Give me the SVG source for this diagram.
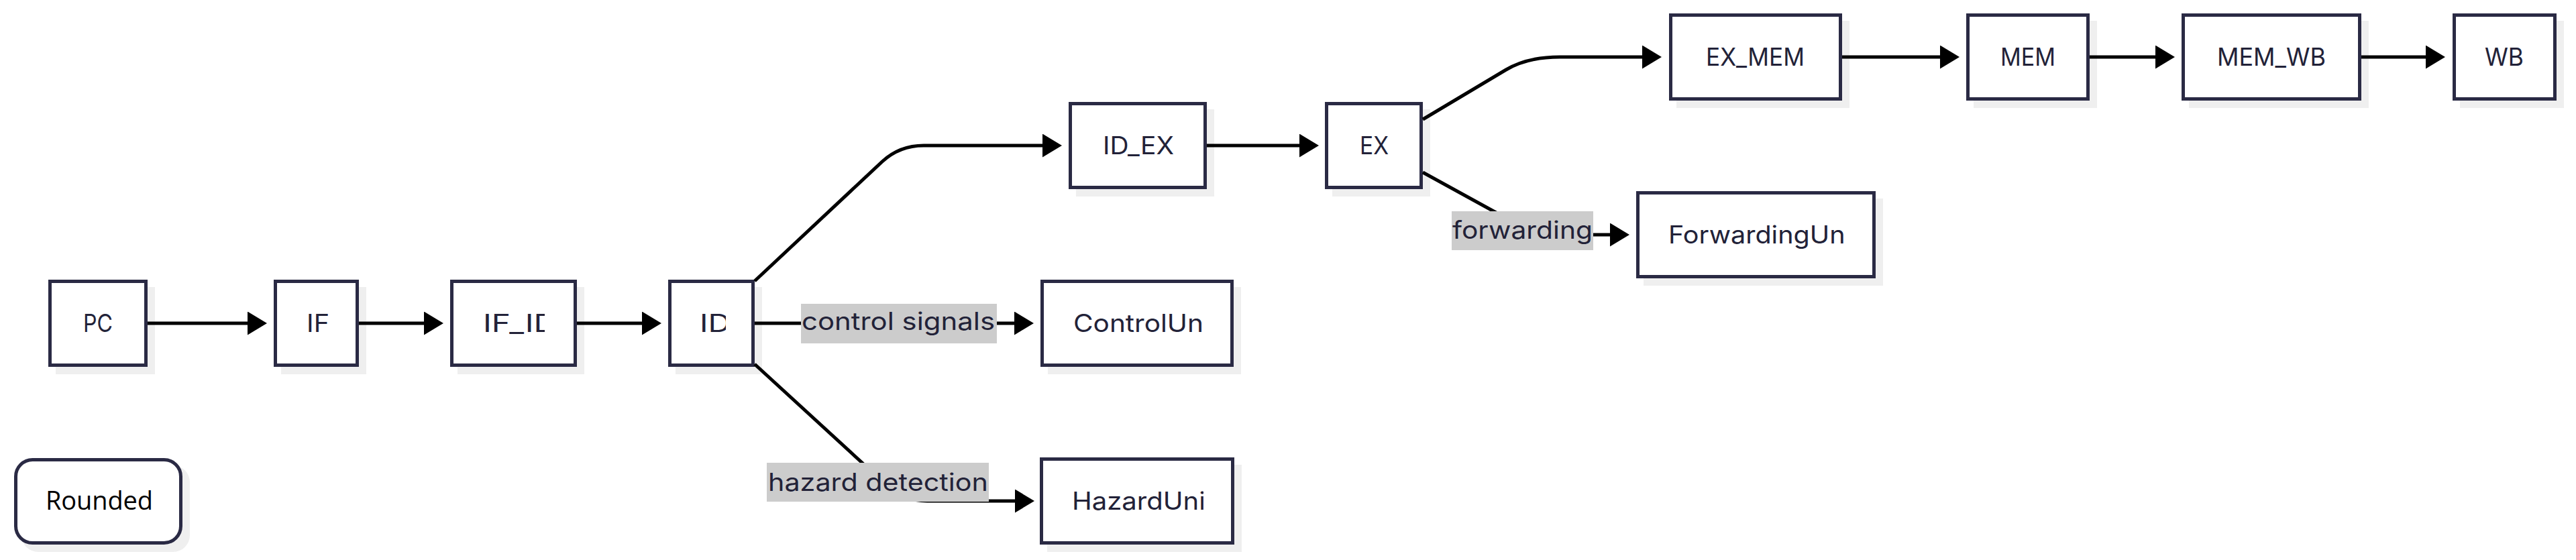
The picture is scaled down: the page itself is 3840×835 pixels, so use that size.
<svg xmlns="http://www.w3.org/2000/svg" width="3840" height="835" viewBox="0 0 3840 835">
<style>
.shadow{fill:#efefef}
.box{fill:#ffffff;stroke:#2a2a44;stroke-width:5}
.nt{font-family:Inter,Roboto,"Liberation Sans",sans-serif;font-size:37px;fill:#222238}
.edge{fill:none;stroke:#000000;stroke-width:5}
.lbg{fill:#cccccc}
.lt{font-family:Inter,Roboto,"Liberation Sans",sans-serif;font-size:37px;fill:#222238}
.rt{font-family:"Open Sans","Noto Sans","Liberation Sans",sans-serif;font-size:38px;fill:#000000}
</style>
<defs>
<marker id="arrow" viewBox="0 0 29 35" refX="9" refY="17.5" markerWidth="29" markerHeight="35" markerUnits="userSpaceOnUse" orient="auto">
<path d="M0,0 L29,17.5 L0,35 z" fill="#000000"/>
</marker>
<clipPath id="c-IF"><rect x="440" y="420" width="49" height="125"/></clipPath>
<clipPath id="c-IFID"><rect x="700" y="420" width="112" height="125"/></clipPath>
<clipPath id="c-ID"><rect x="1030" y="420" width="52" height="125"/></clipPath>
<clipPath id="c-CU"><rect x="1590" y="420" width="203" height="125"/></clipPath>
<clipPath id="c-HU"><rect x="1590" y="685" width="204" height="125"/></clipPath>
<clipPath id="c-FU"><rect x="2475" y="288" width="274" height="125"/></clipPath>
</defs>

<g id="node-PC">
<rect class="shadow" x="83" y="428" width="148" height="130"/>
<rect class="box" x="74.5" y="419.5" width="143" height="125"/>
<text class="nt" x="124" y="495" textLength="44" lengthAdjust="spacingAndGlyphs">PC</text>
</g>
<g id="node-IF">
<rect class="shadow" x="419" y="428" width="127" height="130"/>
<rect class="box" x="410.5" y="419.5" width="122" height="125"/>
<text class="nt" x="457" y="495" textLength="34" lengthAdjust="spacingAndGlyphs" clip-path="url(#c-IF)">IF</text>
</g>
<g id="node-IF_ID">
<rect class="shadow" x="682" y="428" width="189" height="130"/>
<rect class="box" x="673.5" y="419.5" width="184" height="125"/>
<text class="nt" x="720" y="495" textLength="110" lengthAdjust="spacingAndGlyphs" clip-path="url(#c-IFID)">IF_ID</text>
</g>
<g id="node-ID">
<rect class="shadow" x="1007" y="428" width="129" height="130"/>
<rect class="box" x="998.5" y="419.5" width="124" height="125"/>
<text class="nt" x="1043" y="495" textLength="46" lengthAdjust="spacingAndGlyphs" clip-path="url(#c-ID)">ID</text>
</g>
<g id="node-ControlUnit">
<rect class="shadow" x="1562" y="428" width="288" height="130"/>
<rect class="box" x="1553.5" y="419.5" width="283" height="125"/>
<text class="nt" x="1600" y="495" textLength="217" lengthAdjust="spacingAndGlyphs" clip-path="url(#c-CU)">ControlUnit</text>
</g>
<g id="node-HazardUnit">
<rect class="shadow" x="1561" y="693" width="290" height="130"/>
<rect class="box" x="1552.5" y="684.5" width="285" height="125"/>
<text class="nt" x="1598" y="760" textLength="212" lengthAdjust="spacingAndGlyphs" clip-path="url(#c-HU)">HazardUnit</text>
</g>
<g id="node-ID_EX">
<rect class="shadow" x="1604" y="163" width="206" height="130"/>
<rect class="box" x="1595.5" y="154.5" width="201" height="125"/>
<text class="nt" x="1644" y="230" textLength="106" lengthAdjust="spacingAndGlyphs">ID_EX</text>
</g>
<g id="node-EX">
<rect class="shadow" x="1986" y="163" width="146" height="130"/>
<rect class="box" x="1977.5" y="154.5" width="141" height="125"/>
<text class="nt" x="2027" y="230" textLength="43" lengthAdjust="spacingAndGlyphs">EX</text>
</g>
<g id="node-ForwardingUnit">
<rect class="shadow" x="2450" y="296" width="357" height="130"/>
<rect class="box" x="2441.5" y="287.5" width="352" height="125"/>
<text class="nt" x="2487" y="363" textLength="286" lengthAdjust="spacingAndGlyphs" clip-path="url(#c-FU)">ForwardingUnit</text>
</g>
<g id="node-EX_MEM">
<rect class="shadow" x="2499" y="31" width="258" height="130"/>
<rect class="box" x="2490.5" y="22.5" width="253" height="125"/>
<text class="nt" x="2543" y="98" textLength="147" lengthAdjust="spacingAndGlyphs">EX_MEM</text>
</g>
<g id="node-MEM">
<rect class="shadow" x="2942" y="31" width="184" height="130"/>
<rect class="box" x="2933.5" y="22.5" width="179" height="125"/>
<text class="nt" x="2982" y="98" textLength="82" lengthAdjust="spacingAndGlyphs">MEM</text>
</g>
<g id="node-MEM_WB">
<rect class="shadow" x="3263" y="31" width="268" height="130"/>
<rect class="box" x="3254.5" y="22.5" width="263" height="125"/>
<text class="nt" x="3305" y="98" textLength="162" lengthAdjust="spacingAndGlyphs">MEM_WB</text>
</g>
<g id="node-WB">
<rect class="shadow" x="3667" y="31" width="155" height="130"/>
<rect class="box" x="3658.5" y="22.5" width="150" height="125"/>
<text class="nt" x="3704" y="98" textLength="58" lengthAdjust="spacingAndGlyphs">WB</text>
</g>
<g id="node-Rounded">
<rect class="shadow" x="32" y="694" width="251" height="129" rx="25" ry="25"/>
<rect class="box" x="23.5" y="685.5" width="246" height="124" rx="25" ry="25"/>
<text class="rt" x="68" y="760" textLength="160">Rounded</text>
</g>

<g id="edges">
<path class="edge" marker-end="url(#arrow)" d="M220,482 L378,482"/>
<path class="edge" marker-end="url(#arrow)" d="M535,482 L641,482"/>
<path class="edge" marker-end="url(#arrow)" d="M860,482 L966,482"/>
<path class="edge" marker-end="url(#arrow)" d="M1125,482 L1521,482"/>
<path class="edge" marker-end="url(#arrow)" d="M1125,419 L1315,241 Q1341,217 1377,217 L1563,217"/>
<path class="edge" marker-end="url(#arrow)" d="M1125,543 L1320,722 Q1346,747 1382,747 L1522,747"/>
<path class="edge" marker-end="url(#arrow)" d="M1799,217 L1946,217"/>
<path class="edge" marker-end="url(#arrow)" d="M2121,178 L2245,104 Q2277,85 2325,85 L2457,85"/>
<path class="edge" marker-end="url(#arrow)" d="M2121,257 L2263,335 Q2290,350 2320,350 L2409,350"/>
<path class="edge" marker-end="url(#arrow)" d="M2746,85 L2901,85"/>
<path class="edge" marker-end="url(#arrow)" d="M3115,85 L3222,85"/>
<path class="edge" marker-end="url(#arrow)" d="M3520,85 L3625,85"/>
</g>

<g id="edge-labels">
<g id="label-control">
<rect class="lbg" x="1194" y="453" width="292" height="59"/>
<text class="lt" x="1195" y="492" textLength="288" lengthAdjust="spacingAndGlyphs">control signals</text>
</g>
<g id="label-hazard">
<rect class="lbg" x="1143" y="690" width="331" height="58"/>
<text class="lt" x="1145" y="732" textLength="328" lengthAdjust="spacingAndGlyphs">hazard detection</text>
</g>
<g id="label-forwarding">
<rect class="lbg" x="2164" y="315" width="211" height="58"/>
<text class="lt" x="2165" y="356" textLength="209" lengthAdjust="spacingAndGlyphs">forwarding</text>
</g>
</g>
</svg>
